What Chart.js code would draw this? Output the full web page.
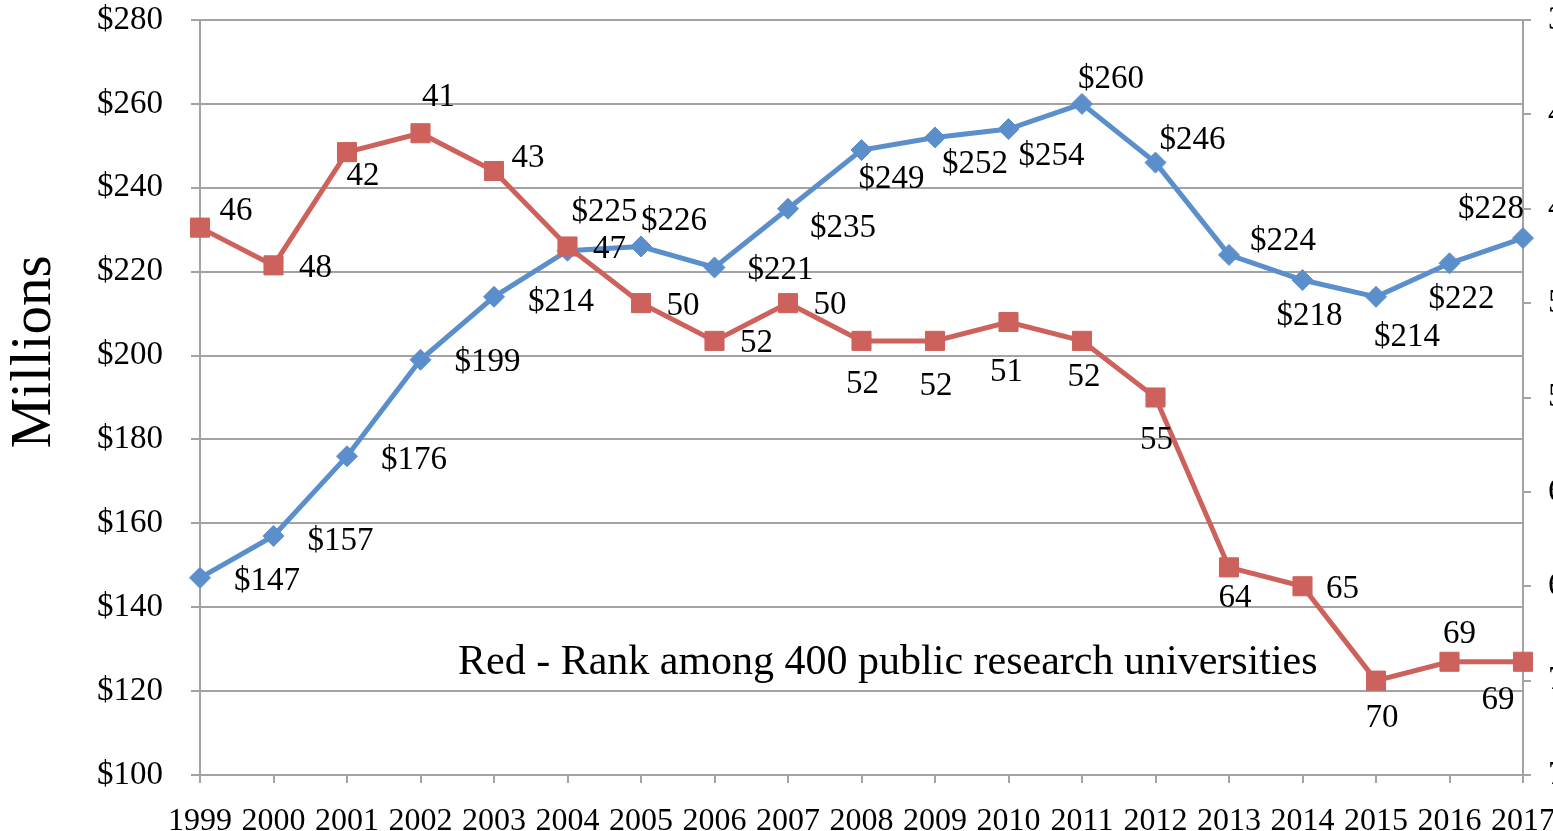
<!DOCTYPE html>
<html>
<head>
<meta charset="utf-8">
<script src="https://cdn.jsdelivr.net/npm/chart.js@4"></script>
<style>
  html, body { margin: 0; padding: 0; background: #fff; overflow: hidden; }
  #wrap { width: 1600px; height: 831px; }
</style>
</head>
<body>
<div id="wrap"><canvas id="c" width="1600" height="831"></canvas></div>
<script>
const years = ['1999','2000','2001','2002','2003','2004','2005','2006','2007','2008','2009','2010','2011','2012','2013','2014','2015','2016','2017'];
const funding = [147,157,176,199,214,225,226,221,235,249,252,254,260,246,224,218,214,222,228];
const rank = [46,48,42,41,43,47,50,52,50,52,52,51,52,55,64,65,70,69,69];
const leftTicks = [100,120,140,160,180,200,220,240,260,280];
const rightTicks = [35,40,45,50,55,60,65,70,75];

// label offsets (pixels relative to each point)
const fundLabelDX = [67,67,67,67,67,37,33,66,55,30,40,43,29,37,54,7,31,12,-32];
const fundLabelDY = [3,5,4,3,5,-38,-25,3,20,29,27,27,-25,-22,-14,36,40,36,-29];
const rankLabelDX = [36,42,16,18,34,42,42,42,42,1,1,-2,2,1,6,40,6,10,-25];
const rankLabelDY = [-16,3,24,-36,-13,3,3,2,2,43,45,50,36,43,31,3,38,-27,39];

const FONT = "'Liberation Serif', 'Times New Roman', serif";
const BLUE = '#5a8fcc';
const RED = '#cd625d';
const GRID = '#a3a3a3';

const labelPlugin = {
  id: 'labels',
  afterDatasetsDraw(chart) {
    const ctx = chart.ctx;
    ctx.save();
    ctx.fillStyle = '#000';
    ctx.font = '33px ' + FONT;
    ctx.textAlign = 'center';
    ctx.textBaseline = 'middle';
    const m0 = chart.getDatasetMeta(1); // funding
    m0.data.forEach((p, i) => {
      ctx.fillText('$' + funding[i], p.x + fundLabelDX[i], p.y + fundLabelDY[i]);
    });
    const m1 = chart.getDatasetMeta(0); // rank
    m1.data.forEach((p, i) => {
      ctx.fillText(String(rank[i]), p.x + rankLabelDX[i], p.y + rankLabelDY[i]);
    });
    // annotation
    const ca = chart.chartArea;
    ctx.textAlign = 'left';
    ctx.textBaseline = 'alphabetic';
    ctx.font = '42px ' + FONT;
    ctx.fillText('Red - Rank among 400 public research universities', ca.left + 258, ca.bottom - 101);
    // axis title
    ctx.save();
    ctx.translate(35, 352);
    ctx.rotate(-Math.PI / 2);
    ctx.textAlign = 'center';
    ctx.textBaseline = 'middle';
    ctx.font = '57px ' + FONT;
    ctx.fillText('Millions', 0, 0);
    ctx.restore();
    ctx.restore();
  }
};

new Chart(document.getElementById('c'), {
  type: 'line',
  data: {
    labels: years,
    datasets: [
      {
        label: 'Rank',
        data: rank,
        yAxisID: 'y1',
        borderColor: RED,
        backgroundColor: RED,
        borderWidth: 5,
        pointStyle: 'rect',
        pointRadius: 13.5,
        pointBorderWidth: 1,
        pointBorderColor: RED,
        pointBackgroundColor: RED,
        tension: 0,
        order: 0
      },
      {
        label: 'Funding',
        data: funding,
        yAxisID: 'y',
        borderColor: BLUE,
        backgroundColor: BLUE,
        borderWidth: 5,
        pointStyle: 'rectRot',
        pointRadius: 10.5,
        pointBorderWidth: 1,
        pointBorderColor: BLUE,
        pointBackgroundColor: BLUE,
        tension: 0,
        order: 1
      }
    ]
  },
  options: {
    responsive: false,
    animation: false,
    devicePixelRatio: 1,
    layout: { padding: { top: 20, left: 0, right: 0, bottom: 0 } },
    plugins: { legend: { display: false }, tooltip: { enabled: false } },
    scales: {
      x: {
        type: 'category',
        offset: false,
        grid: { drawOnChartArea: false, drawTicks: true, tickLength: 8, color: GRID, lineWidth: 2 },
        border: { color: GRID, width: 2 },
        ticks: { color: '#000', font: { family: FONT, size: 32 }, autoSkip: false, maxRotation: 0, minRotation: 0, padding: 19 },
        afterFit(s) { s.height = 56; s.paddingLeft = 0; s.paddingRight = 0; }
      },
      y: {
        position: 'left',
        min: 100, max: 280,
        afterBuildTicks(s) { s.ticks = leftTicks.map(v => ({ value: v })); },
        grid: { color: GRID, lineWidth: 2, tickLength: 9, drawTicks: true },
        border: { color: GRID, width: 2 },
        ticks: { color: '#000', font: { family: FONT, size: 33 }, padding: 28, callback: v => '$' + v },
        afterFit(s) { s.width = 200; s.paddingTop = 0; s.paddingBottom = 0; }
      },
      y1: {
        position: 'right',
        reverse: true,
        min: 35, max: 75,
        afterBuildTicks(s) { s.ticks = rightTicks.map(v => ({ value: v })); },
        grid: { drawOnChartArea: false, color: GRID, lineWidth: 2, tickLength: 8 },
        border: { color: GRID, width: 2 },
        ticks: { color: '#000', font: { family: FONT, size: 33 }, padding: 17 },
        afterFit(s) { s.width = 77; s.paddingTop = 0; s.paddingBottom = 0; }
      }
    }
  },
  plugins: [labelPlugin]
});
</script>
</body>
</html>
